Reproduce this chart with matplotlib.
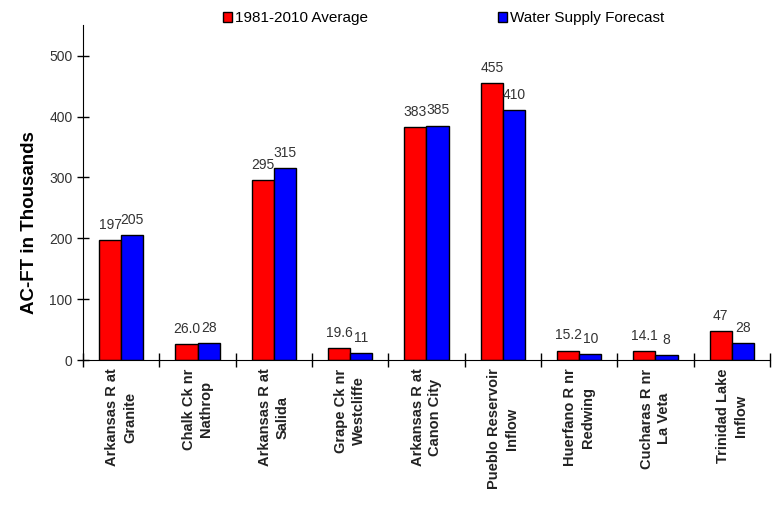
import numpy as np
import matplotlib.pyplot as plt

plt.rcParams['font.family'] = ['Liberation Sans', 'DejaVu Sans']

sites = ["Arkansas R at\nGranite", "Chalk Ck nr\nNathrop", "Arkansas R at\nSalida",
         "Grape Ck nr\nWestcliffe", "Arkansas R at\nCanon City", "Pueblo Reservoir\nInflow",
         "Huerfano R nr\nRedwing", "Cucharas R nr\nLa Veta", "Trinidad Lake\nInflow"]
avg_vals = [197, 26.0, 295, 19.6, 383, 455, 15.2, 14.1, 47]
avg_text = ["197", "26.0", "295", "19.6", "383", "455", "15.2", "14.1", "47"]
fcst_vals = [205, 28, 315, 11, 385, 410, 10, 8, 28]
fcst_text = ["205", "28", "315", "11", "385", "410", "10", "8", "28"]

fig = plt.figure(figsize=(7.78, 5.05), dpi=100)
ax = fig.add_axes([0.1067, 0.287, 0.883, 0.663])

x = np.arange(len(sites))
w = 0.29
red_bars = ax.bar(x - w / 2, avg_vals, w, color="#ff0000", edgecolor="black",
                  linewidth=1, label="1981-2010 Average")
blue_bars = ax.bar(x + w / 2, fcst_vals, w, color="#0000ff", edgecolor="black",
                   linewidth=1, label="Water Supply Forecast")

for bars, texts in [(red_bars, avg_text), (blue_bars, fcst_text)]:
    for b, t in zip(bars, texts):
        ax.annotate(t, (b.get_x() + b.get_width() / 2, b.get_height()),
                    xytext=(0, 6), textcoords="offset points", ha="center",
                    va="bottom", fontsize=10, color="#333333")

ax.set_xlim(-0.5, len(sites) - 0.5)
ax.set_ylim(0, 550)
ax.set_yticks([0, 100, 200, 300, 400, 500])
ax.tick_params(axis="y", direction="inout", length=8, labelsize=10,
               labelcolor="#333333", width=1)

# category separators as ticks on the x axis, labels on the minor ticks
ax.set_xticks(np.arange(len(sites) + 1) - 0.5)
ax.set_xticklabels([])
ax.tick_params(axis="x", which="major", direction="inout", length=10, width=1)
ax.set_xticks(x, minor=True)
ax.set_xticklabels(sites, minor=True, rotation=90, fontsize=10.5, fontweight="bold",
                   color="#222222", ha="center", va="top", multialignment="center",
                   linespacing=1.35)
ax.tick_params(axis="x", which="minor", length=0, pad=6)

ax.spines["top"].set_visible(False)
ax.spines["right"].set_visible(False)
ax.set_ylabel("AC-FT in Thousands", fontsize=13.5, fontweight="bold")
ax.yaxis.set_label_coords(-0.066, 0.41)

fig.legend(loc="upper center", bbox_to_anchor=(0.57, 1.005), ncol=2, frameon=False,
           fontsize=11, handlelength=0.6, handleheight=0.6, handletextpad=0.2,
           columnspacing=8.5)

fig.savefig("out.png", dpi=100)
